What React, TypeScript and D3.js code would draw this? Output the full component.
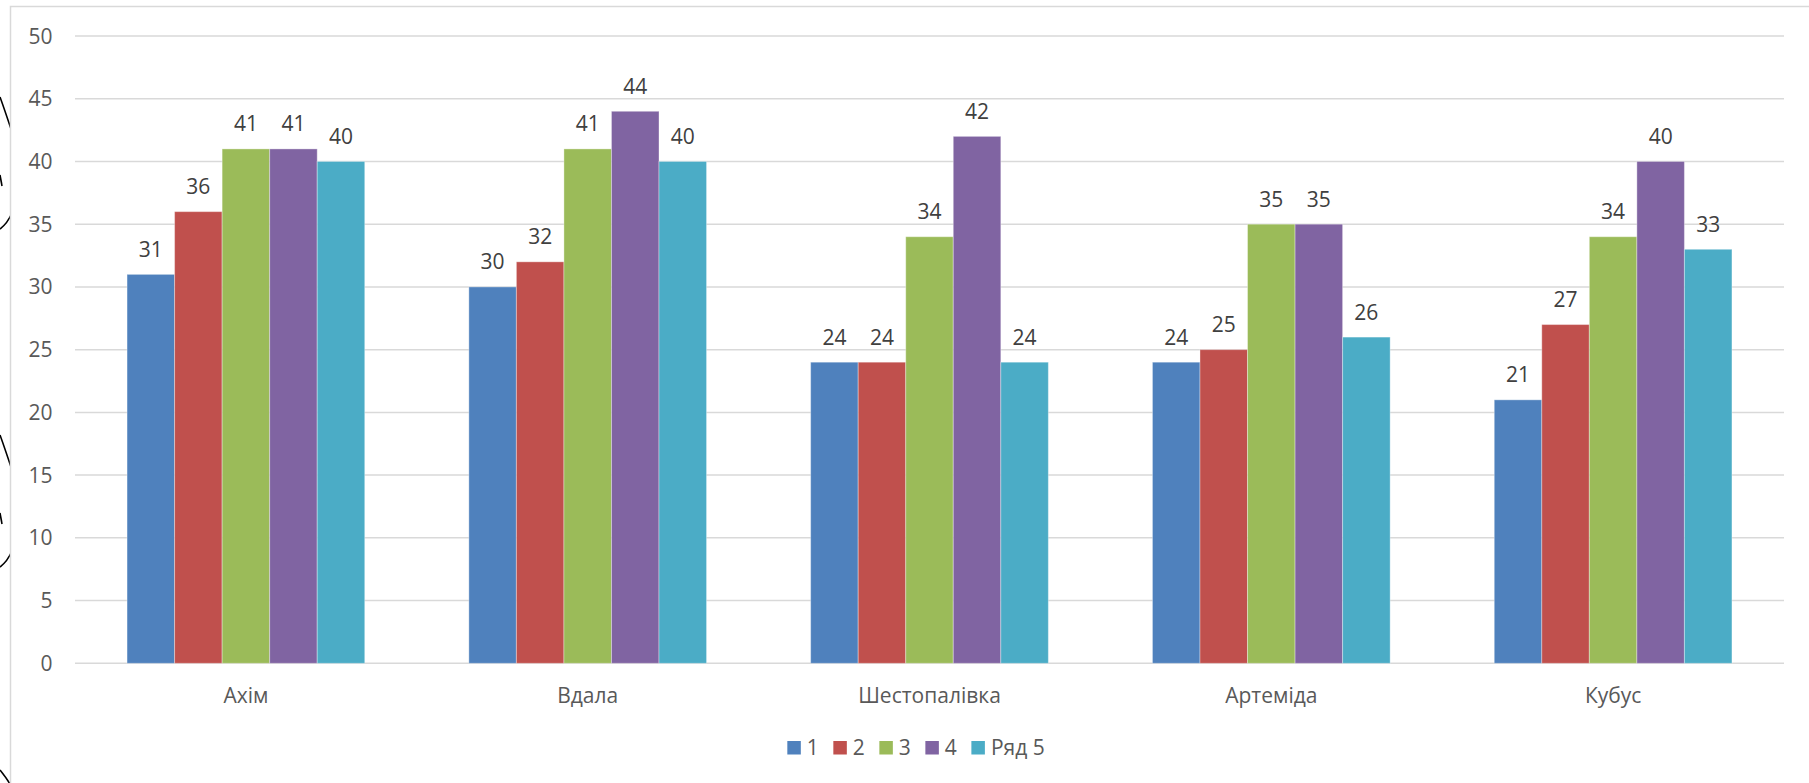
import React, { useEffect, useRef } from "react";
import * as d3 from "d3";

// Categories (villages) and the five series plotted for each of them
const categories = ["Ахім", "Вдала", "Шестопалівка", "Артеміда", "Кубус"];
const seriesNames = ["1", "2", "3", "4", "Ряд 5"];
const series1 = [31, 30, 24, 24, 21];
const series2 = [36, 32, 24, 25, 27];
const series3 = [41, 41, 34, 35, 34];
const series4 = [41, 44, 42, 35, 40];
const series5 = [40, 40, 24, 26, 33];
const yTicks = [0, 5, 10, 15, 20, 25, 30, 35, 40, 45, 50];
const seriesColors = ["#4F81BD", "#C0504D", "#9BBB59", "#8064A2", "#4BACC6"];

const W = 1809;
const H = 783;
const FONT = "'Open Sans', 'DejaVu Sans', sans-serif";

export default function App() {
  const ref = useRef<SVGSVGElement | null>(null);

  useEffect(() => {
    const svg = d3.select(ref.current);
    svg.selectAll("*").remove();

    const allSeries = [series1, series2, series3, series4, series5];

    // hand-drawn strokes peeking out at the left edge, behind the chart box
    const deco = svg.append("g").attr("fill", "none").attr("stroke", "#000").attr("stroke-width", 1.6);
    [0, 338].forEach((dy) => {
      deco.append("path").attr("d", `M0,${97 + dy} C4,${108 + dy} 8,${120 + dy} 12,${132 + dy}`);
      deco.append("path").attr("d", `M12,${213 + dy} C8,${222 + dy} 4,${226 + dy} 0,${229 + dy}`);
      deco.append("path").attr("d", `M0,${175 + dy} L2,${186 + dy}`);
    });
    deco.append("path").attr("d", `M0,770 C4,775 8,780 11,786`);

    // chart box
    svg
      .append("rect")
      .attr("x", 10.5)
      .attr("y", 6.5)
      .attr("width", W + 20)
      .attr("height", H + 20)
      .attr("fill", "#fff")
      .attr("stroke", "#d9d9d9")
      .attr("stroke-width", 1.5);

    const y = d3.scaleLinear().domain([0, 50]).range([663.3, 36]);
    const x = d3.scaleBand<string>().domain(categories).range([75, 1784]).paddingInner(0).paddingOuter(0);
    const gap = 2.19; // gap width relative to one bar
    const groupW = (x.step() * seriesNames.length) / (seriesNames.length + gap);
    const xs = d3.scaleBand<string>().domain(seriesNames).range([0, groupW]);

    // gridlines
    svg
      .append("g")
      .selectAll("line")
      .data(yTicks)
      .join("line")
      .attr("x1", 75)
      .attr("x2", 1784)
      .attr("y1", (d) => y(d))
      .attr("y2", (d) => y(d))
      .attr("stroke", "#d9d9d9")
      .attr("stroke-width", 1.5);

    // y tick labels
    svg
      .append("g")
      .selectAll("text")
      .data(yTicks)
      .join("text")
      .attr("x", 52.5)
      .attr("y", (d) => y(d) + 7.5)
      .attr("text-anchor", "end")
      .attr("font-family", FONT)
      .attr("font-size", 21)
      .attr("fill", "#595959")
      .text((d) => d);

    // bars and value labels
    allSeries.forEach((vals, si) => {
      const name = seriesNames[si];
      const g = svg.append("g");
      categories.forEach((c, ci) => {
        const x0 = (x(c) as number) + (x.step() - groupW) / 2 + (xs(name) as number);
        const v = vals[ci];
        g.append("rect")
          .attr("x", x0)
          .attr("y", y(v))
          .attr("width", xs.bandwidth())
          .attr("height", y(0) - y(v))
          .attr("fill", seriesColors[si])
          .attr("stroke", "#fff")
          .attr("stroke-opacity", 0.35)
          .attr("stroke-width", 1);
        g.append("text")
          .attr("x", x0 + xs.bandwidth() / 2)
          .attr("y", y(v) - 17.5)
          .attr("text-anchor", "middle")
          .attr("font-family", FONT)
          .attr("font-size", 21)
          .attr("fill", "#404040")
          .text(v);
      });
    });

    // category labels
    svg
      .append("g")
      .selectAll("text")
      .data(categories)
      .join("text")
      .attr("x", (d) => (x(d) as number) + x.step() / 2)
      .attr("y", y(0) + 39.5)
      .attr("text-anchor", "middle")
      .attr("font-family", FONT)
      .attr("font-size", 21)
      .attr("fill", "#595959")
      .text((d) => d);

    // legend
    const lg = svg.append("g");
    const sq = 13.5;
    let cx = 0;
    seriesNames.forEach((n, i) => {
      lg.append("rect").attr("x", cx).attr("y", 741).attr("width", sq).attr("height", sq).attr("fill", seriesColors[i]);
      const t = lg
        .append("text")
        .attr("x", cx + sq + 6)
        .attr("y", 755)
        .attr("font-family", FONT)
        .attr("font-size", 21)
        .attr("fill", "#595959")
        .text(n);
      const tw = (t.node() as SVGTextElement).getComputedTextLength();
      cx += sq + 6 + tw + 14.5;
    });
    const legendW = cx - 14.5;
    lg.attr("transform", `translate(${916 - legendW / 2},0)`);
  }, []);

  return (
    <svg
      ref={ref}
      width={W}
      height={H}
      style={{ position: "absolute", left: 0, top: 0, background: "#fff" }}
    />
  );
}
